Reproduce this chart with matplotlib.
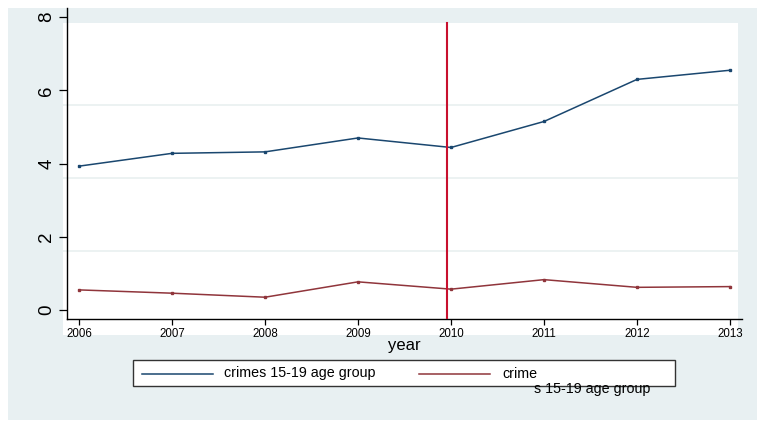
import matplotlib
matplotlib.use("Agg")
import matplotlib.pyplot as plt
from matplotlib.patches import Rectangle
from matplotlib.lines import Line2D

plt.rcParams['font.family'] = ['Liberation Sans', 'DejaVu Sans']

years = [2006, 2007, 2008, 2009, 2010, 2011, 2012, 2013]
crimes_15_19 = [3.93, 4.28, 4.32, 4.70, 4.44, 5.15, 6.30, 6.55]
crime = [0.55, 0.46, 0.35, 0.77, 0.57, 0.83, 0.62, 0.64]
event_year = 2010
yticks = [0, 2, 4, 6, 8]
grid_vals = [1.6, 3.6, 5.6]
label_blue = "crimes 15-19 age group"
label_red = "crime"
label_overflow = "s 15-19 age group"
xlabel = "year"

W, H = 757, 428
fig = plt.figure(figsize=(W / 100, H / 100), dpi=100)
fig.patch.set_facecolor('white')

def fx(px):
    return px / W

def fy(py):
    return (H - py) / H

bg = '#e8f0f2'
fig.add_artist(Rectangle((fx(8), fy(420)), 1 - fx(8), (420 - 8) / H,
                         transform=fig.transFigure, facecolor=bg, edgecolor='none', zorder=0))
fig.add_artist(Rectangle((fx(63), fy(335)), (738 - 63) / W, (335 - 23) / H,
                         transform=fig.transFigure, facecolor='white', edgecolor='none', zorder=0))

ax = fig.add_axes([fx(67), fy(319), (742 - 67) / W, (319 - 8) / H])
ax.patch.set_alpha(0)
ax.set_xlim(2006 - 12 / 93, 2013 + 12 / 93)
ax.set_ylim(-0.245, 8.25)

for g in grid_vals:
    ax.axhline(g, xmin=-0.006, xmax=0.994, color='#eaf1f1', lw=1.3, clip_on=False, zorder=1)

blue = '#1a476f'
red = '#90353b'
ax.plot(years, crimes_15_19, color=blue, lw=1.1, marker='s', ms=2, zorder=3)
ax.plot(years, crime, color=red, lw=1.1, marker='s', ms=2, zorder=3)
ax.axvline(event_year - 0.04, ymin=0, ymax=0.952, color='#c8102e', lw=1.5, zorder=4)

for s in ['top', 'right']:
    ax.spines[s].set_visible(False)
for s in ['left', 'bottom']:
    ax.spines[s].set_color('black')
    ax.spines[s].set_linewidth(1.0)

ax.set_yticks(yticks)
ax.set_yticklabels([str(v) for v in yticks], rotation=90, va='center', fontsize=13.5)
ax.tick_params(axis='y', length=6, width=0.9, pad=2.5, color='black')
ax.set_xticks(years)
ax.set_xticklabels([str(y) for y in years], fontsize=8.3)
ax.tick_params(axis='x', length=4, width=0.9, pad=2.5, color='black')
ax.set_xlabel(xlabel, fontsize=12)
ax.xaxis.set_label_coords(0.5, -(338 - 319) / (319 - 8))
ax.xaxis.label.set_va('top')

# legend
fig.add_artist(Rectangle((fx(133), fy(386)), (675 - 133) / W, (386 - 360) / H,
                         transform=fig.transFigure, facecolor='white', edgecolor='#333333',
                         lw=1.0, zorder=2))
ly = fy(373.5)
fig.add_artist(Line2D([fx(142), fx(213)], [ly, ly], transform=fig.transFigure,
                      color=blue, lw=1.1, zorder=3))
fig.text(fx(224), ly, label_blue, fontsize=10.3, va='center', ha='left', zorder=3)
fig.add_artist(Line2D([fx(419), fx(490)], [ly, ly], transform=fig.transFigure,
                      color=red, lw=1.1, zorder=3))
fig.text(fx(502), ly, label_red, fontsize=10.3, va='center', ha='left', zorder=3)
fig.text(fx(534), fy(389), label_overflow, fontsize=10.3, va='center', ha='left', zorder=3)

fig.savefig('out.png', dpi=100, facecolor=fig.get_facecolor())
